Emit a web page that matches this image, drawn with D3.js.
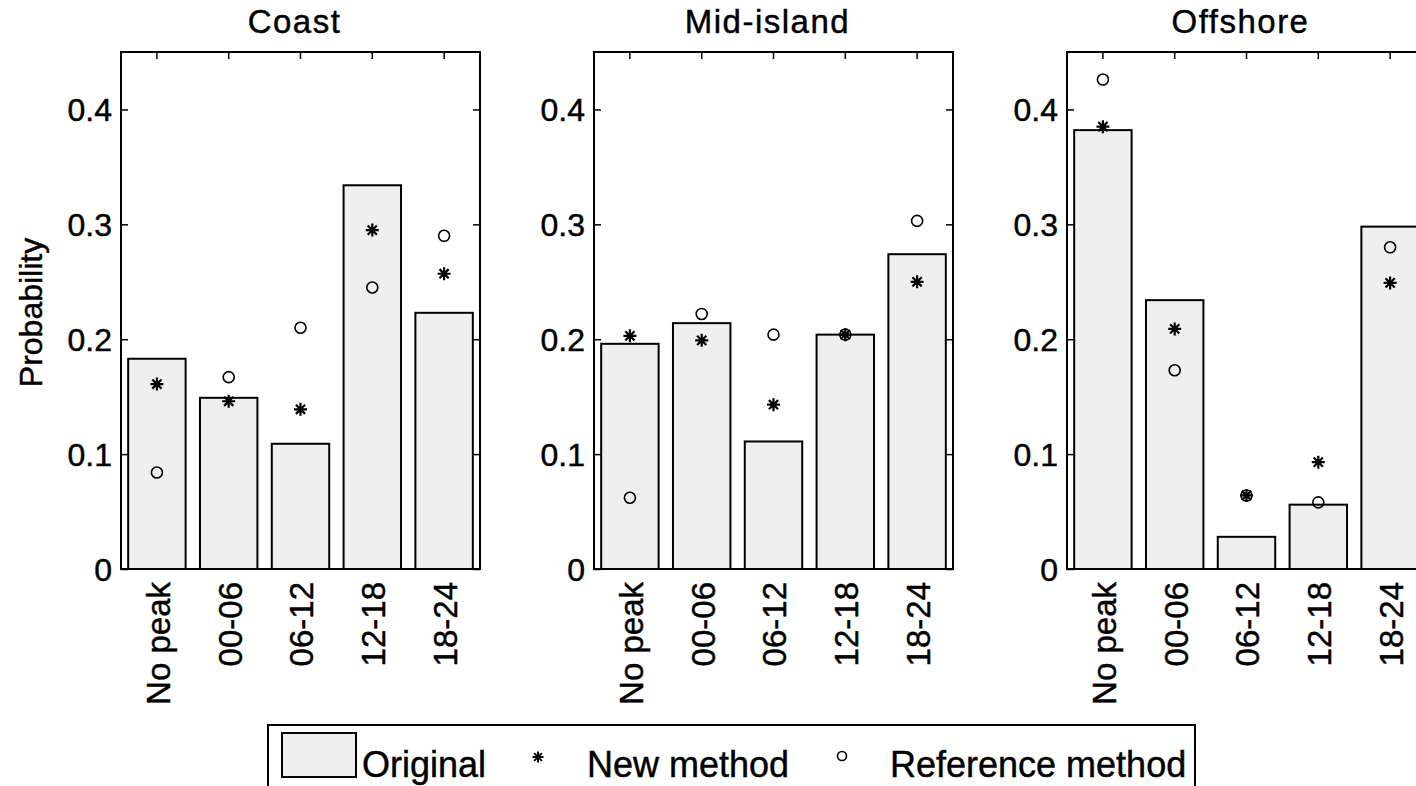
<!DOCTYPE html>
<html>
<head>
<meta charset="utf-8">
<script src="https://cdn.jsdelivr.net/npm/d3@7/dist/d3.min.js"></script>
<style>
  html, body { margin: 0; padding: 0; background: #ffffff; }
  svg { display: block; }
  text { font-family: "Liberation Sans", Arial, Helvetica, sans-serif; fill: #000; stroke: #000; stroke-width: 0.45px; }
</style>
</head>
<body>
<svg id="chart" width="1416" height="786"></svg>
<script>
// ---- Data ----
const categories = ["No peak", "00-06", "06-12", "12-18", "18-24"];
const panelTitles = ["Coast", "Mid-island", "Offshore"];
const yTicks = [0, 0.1, 0.2, 0.3, 0.4];

const originalCoast    = [0.183, 0.149, 0.109, 0.334, 0.223];
const newMethodCoast   = [0.161, 0.146, 0.139, 0.295, 0.257];
const refMethodCoast   = [0.084, 0.167, 0.210, 0.245, 0.290];

const originalMid      = [0.196, 0.214, 0.111, 0.204, 0.274];
const newMethodMid     = [0.203, 0.199, 0.143, 0.204, 0.250];
const refMethodMid     = [0.062, 0.222, 0.204, 0.204, 0.303];

const originalOff      = [0.382, 0.234, 0.028, 0.056, 0.298];
const newMethodOff     = [0.385, 0.209, 0.064, 0.093, 0.249];
const refMethodOff     = [0.426, 0.173, 0.064, 0.058, 0.280];

const legendLabels = ["Original", "New method", "Reference method"];

const panelData = [
  { title: panelTitles[0], orig: originalCoast, nw: newMethodCoast, ref: refMethodCoast },
  { title: panelTitles[1], orig: originalMid,   nw: newMethodMid,   ref: refMethodMid },
  { title: panelTitles[2], orig: originalOff,   nw: newMethodOff,   ref: refMethodOff }
];

// ---- Layout ----
const svg = d3.select("#chart");
const panelLefts = [121, 594, 1067];
const panelWidth = 359;
const yTop = 52, yBottom = 569;
const barFill = "#efefef";

const y = d3.scaleLinear().domain([0, 0.45]).range([yBottom, yTop]);

function starPath(r) {
  const d = r * Math.SQRT1_2;
  return `M${-r},0L${r},0M0,${-r}L0,${r}M${-d},${-d}L${d},${d}M${-d},${d}L${d},${-d}`;
}

panelData.forEach((p, i) => {
  const left = panelLefts[i];
  const right = left + panelWidth;
  const x = d3.scaleBand().domain(categories).range([left, right])
    .paddingInner(0.2).paddingOuter(0.1);
  const cx = c => x(c) + x.bandwidth() / 2;

  const g = svg.append("g");

  // ticks (drawn under the bars, like MATLAB layer bottom)
  const yAxisL = d3.axisLeft(y).tickValues(yTicks).tickSize(-7).tickPadding(9)
    .tickFormat(d => d === 0 ? "0" : d3.format(".1f")(d));
  const gl = g.append("g").attr("transform", `translate(${left},0)`).call(yAxisL);
  gl.select(".domain").remove();
  gl.selectAll("line").attr("stroke", "#000").attr("stroke-width", 1.5);
  gl.selectAll("text").style("font-size", "32px").attr("dy", "0.36em");

  const yAxisR = d3.axisRight(y).tickValues(yTicks).tickSize(-7).tickFormat("");
  const gr = g.append("g").attr("transform", `translate(${right},0)`).call(yAxisR);
  gr.select(".domain").remove();
  gr.selectAll("line").attr("stroke", "#000").attr("stroke-width", 1.5);

  const xAxisT = d3.axisTop(x).tickSize(-7).tickFormat("");
  const gt = g.append("g").attr("transform", `translate(0,${yTop})`).call(xAxisT);
  gt.select(".domain").remove();
  gt.selectAll("line").attr("stroke", "#000").attr("stroke-width", 1.5);

  const xAxisB = d3.axisBottom(x).tickSize(0).tickPadding(0);
  const gb = g.append("g").attr("transform", `translate(0,${yBottom})`).call(xAxisB);
  gb.select(".domain").remove();
  gb.selectAll("text")
    .style("font-size", "33px")
    .attr("text-anchor", "end")
    .attr("transform", "translate(1,13) rotate(-90)")
    .attr("x", 0).attr("y", 0).attr("dy", "0.36em");

  // bars
  g.selectAll("rect.bar").data(categories).enter().append("rect")
    .attr("class", "bar")
    .attr("x", c => x(c))
    .attr("width", x.bandwidth())
    .attr("y", (c, j) => y(p.orig[j]))
    .attr("height", (c, j) => y(0) - y(p.orig[j]))
    .attr("fill", barFill).attr("stroke", "#000").attr("stroke-width", 2);

  // reference method (circles)
  g.selectAll("circle.ref").data(categories).enter().append("circle")
    .attr("class", "ref")
    .attr("cx", c => cx(c))
    .attr("cy", (c, j) => y(p.ref[j]))
    .attr("r", 5.5)
    .attr("fill", "none").attr("stroke", "#000").attr("stroke-width", 1.6);

  // new method (stars)
  g.selectAll("path.star").data(categories).enter().append("path")
    .attr("class", "star")
    .attr("transform", (c, j) => `translate(${cx(c)},${y(p.nw[j])})`)
    .attr("d", starPath(6.5))
    .attr("stroke", "#000").attr("stroke-width", 2.2).attr("fill", "none");

  // axes box
  g.append("rect")
    .attr("x", left).attr("y", yTop)
    .attr("width", panelWidth).attr("height", yBottom - yTop)
    .attr("fill", "none").attr("stroke", "#000").attr("stroke-width", 2);

  // title
  g.append("text")
    .attr("x", (left + right) / 2 - 6).attr("y", 33)
    .attr("text-anchor", "middle")
    .style("font-size", "33px")
    .style("letter-spacing", "1.5px")
    .text(p.title);
});

// y label
svg.append("text")
  .attr("transform", `translate(30,${(yTop + yBottom) / 2 + 2}) rotate(-90)`)
  .attr("text-anchor", "middle")
  .attr("dy", "0.36em")
  .style("font-size", "32px")
  .text("Probability");

// ---- Legend ----
const lg = svg.append("g");
lg.append("rect").attr("x", 268).attr("y", 725).attr("width", 927).attr("height", 90)
  .attr("fill", "#fff").attr("stroke", "#000").attr("stroke-width", 2);
lg.append("rect").attr("x", 282).attr("y", 733).attr("width", 74).attr("height", 44)
  .attr("fill", barFill).attr("stroke", "#000").attr("stroke-width", 2);
lg.append("text").attr("x", 362).attr("y", 777).style("font-size", "36px").text(legendLabels[0]);
lg.append("path").attr("transform", "translate(538,757)").attr("d", starPath(5.5))
  .attr("stroke", "#000").attr("stroke-width", 2).attr("fill", "none");
lg.append("text").attr("x", 587).attr("y", 777).style("font-size", "36px").text(legendLabels[1]);
lg.append("circle").attr("cx", 842).attr("cy", 756).attr("r", 4.5)
  .attr("fill", "none").attr("stroke", "#000").attr("stroke-width", 1.6);
lg.append("text").attr("x", 890).attr("y", 777).style("font-size", "36px").text(legendLabels[2]);
</script>
</body>
</html>
